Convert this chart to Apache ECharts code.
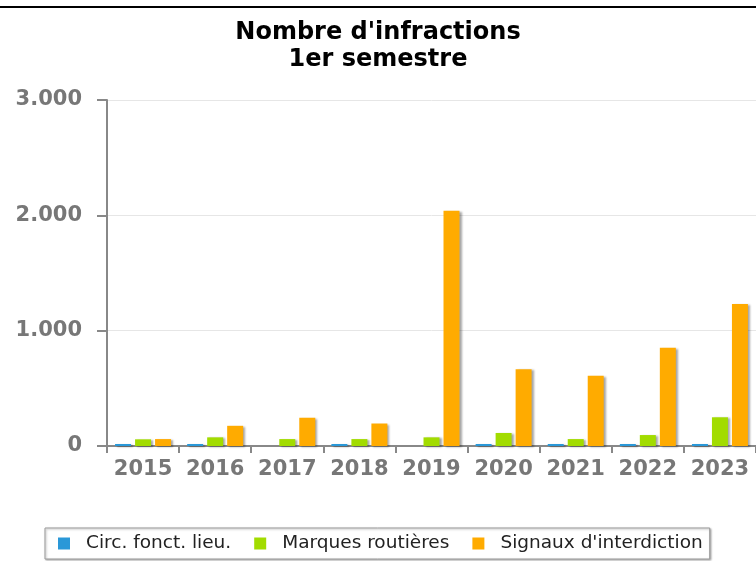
<!DOCTYPE html>
<html>
<head>
<meta charset="utf-8">
<script src="https://cdn.jsdelivr.net/npm/echarts@6/dist/echarts.min.js"></script>
<style>html,body{margin:0;padding:0;background:#fff;}#c{width:756px;height:561px;}</style>
</head>
<body>
<div id="c"></div>
<script>
const years = ['2015','2016','2017','2018','2019','2020','2021','2022','2023'];
const circFonct = [3, 3, null, 3, null, 3, 3, 3, 3];
const marques = [58, 75, 60, 60, 75, 113, 60, 95, 249];
const signaux = [60, 175, 245, 195, 2040, 665, 610, 852, 1231];
const yTicks = [0, 1000, 2000, 3000];
const seriesNames = ['Circ. fonct. lieu.', 'Marques routières', "Signaux d'interdiction"];

const chart = echarts.init(document.getElementById('c'), null, {renderer: 'canvas'});
const fmt = v => v === 0 ? '0' : String(v).replace(/\B(?=(\d{3})+(?!\d))/g, '.');
const shadow = {shadowColor: 'rgba(0,0,0,0.35)', shadowBlur: 2, shadowOffsetX: 2, shadowOffsetY: 1};
chart.setOption({
  animation: false,
  textStyle: {fontFamily: 'DejaVu Sans'},
  title: {
    text: "Nombre d'infractions\n1er semestre",
    left: 'center', top: 14,
    textStyle: {fontFamily: 'DejaVu Sans', fontWeight: 'bold', fontSize: 24, color: '#000', lineHeight: 27}
  },
  graphic: [{type: 'line', shape: {x1: 0, y1: 7, x2: 756, y2: 7}, style: {stroke: '#000', lineWidth: 2}, silent: true}],
  legend: {
    data: seriesNames,
    left: 45, top: 528,
    itemWidth: 12, itemHeight: 12, itemGap: 23,
    icon: 'rect',
    padding: [6, 7, 6, 13],
    borderColor: '#999', borderWidth: 1,
    shadowColor: 'rgba(0,0,0,0.3)', shadowBlur: 2, shadowOffsetX: 1, shadowOffsetY: 1,
    backgroundColor: '#fff',
    textStyle: {fontFamily: 'DejaVu Sans', fontSize: 18.5, color: '#222', padding: [0, 0, 0, 11]}
  },
  grid: {left: 107, top: 100, bottom: 115, right: -4, containLabel: false},
  xAxis: {
    type: 'category', data: years,
    axisLine: {lineStyle: {color: '#888', width: 2}},
    axisTick: {show: true, length: 7, lineStyle: {color: '#888', width: 2}},
    axisLabel: {fontFamily: 'DejaVu Sans', fontWeight: 'bold', fontSize: 21, color: '#777', margin: 13,
      interval: 0, hideOverlap: false}
  },
  yAxis: {
    type: 'value', min: 0, max: 3000, interval: 1000,
    axisLine: {show: true, lineStyle: {color: '#888', width: 2}},
    axisTick: {show: true, length: 10, lineStyle: {color: '#888', width: 2}},
    splitLine: {lineStyle: {color: '#e6e6e6', width: 1}},
    axisLabel: {fontFamily: 'DejaVu Sans', fontWeight: 'bold', fontSize: 21, color: '#777', margin: 25,
      formatter: v => yTicks.includes(v) ? fmt(v) : ''}
  },
  series: [
    {name: seriesNames[0], type: 'bar', data: circFonct, barWidth: 16, barGap: '25%', barMinHeight: 2,
      itemStyle: Object.assign({color: '#2a98d8'}, shadow)},
    {name: seriesNames[1], type: 'bar', data: marques, barWidth: 16, barGap: '25%',
      itemStyle: Object.assign({color: '#a2dc00'}, shadow)},
    {name: seriesNames[2], type: 'bar', data: signaux, barWidth: 16, barGap: '25%',
      itemStyle: Object.assign({color: '#ffab00'}, shadow)}
  ]
});
</script>
</body>
</html>
